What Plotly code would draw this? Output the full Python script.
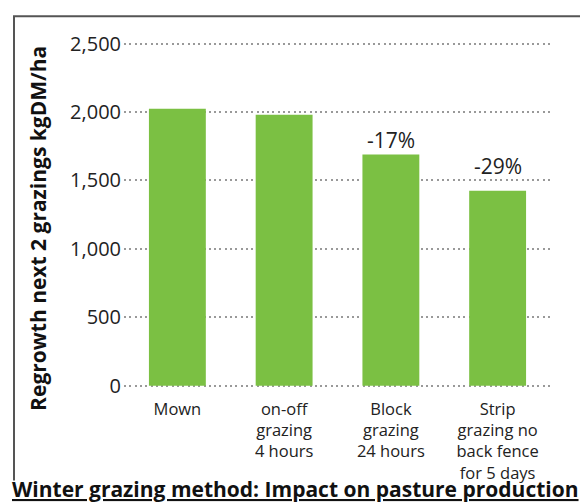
import plotly.graph_objects as go

categories = ["Mown", "on-off<br>grazing<br>4 hours", "Block<br>grazing<br>24 hours",
              "Strip<br>grazing no<br>back fence<br>for 5 days"]
regrowth = [2025, 1980, 1690, 1425]
change_labels = ["", "", "-17%", "-29%"]
y_ticks = [0, 500, 1000, 1500, 2000, 2500]

# page body has an 8px margin: work in window pixels and shift by OFF
OFF = 8
W, H = 588 - OFF, 503 - OFF
Y0_WIN, Y2500_WIN = 386, 43.5
scale = (Y0_WIN - Y2500_WIN) / 2500.0
YMIN, YMAX = -10, 2600
plot_bottom = Y0_WIN - OFF + (-YMIN) * scale
plot_top = Y0_WIN - OFF - YMAX * scale
L = 124 - OFF
R = W - (551 - OFF)
T = plot_top
B = H - plot_bottom
pw, ph = W - L - R, H - T - B


def px_x(p):
    return (p - OFF - L) / pw


def px_y(p):
    return (H - B - (p - OFF)) / ph


FONT = "Open Sans"
label_lift = {"-17%": -2, "-29%": 9}

fig = go.Figure()
fig.add_trace(go.Bar(x=categories, y=regrowth, marker=dict(color="#7bc043", line=dict(width=0)),
                     hoverinfo="skip"))

for c, v, t in zip(categories, regrowth, change_labels):
    if t:
        fig.add_annotation(x=c, y=v, text=t, showarrow=False, yanchor="bottom",
                           yshift=label_lift.get(t, 0),
                           font=dict(family=FONT, size=21, color="#222"))

fig.add_annotation(xref="paper", yref="paper", x=px_x(38), y=px_y(229), xanchor="center",
                   yanchor="middle", showarrow=False, textangle=-90,
                   text="<b>Regrowth next 2 grazings kgDM/ha</b>",
                   font=dict(family=FONT, size=21, color="#111"))

fig.add_annotation(xref="paper", yref="paper", x=px_x(10), y=px_y(490), xanchor="left",
                   yanchor="middle", showarrow=False,
                   text="<b>Winter grazing method: Impact on pasture production</b>",
                   font=dict(family=FONT, size=21, color="#111", lineposition="under"))

x0, x1, y0, y1, y2 = px_x(14), px_x(584), px_y(16), px_y(481), px_y(490)
fig.add_shape(type="path", xref="paper", yref="paper",
              path=f"M {x0},{y1} L {x0},{y0} L {x1},{y0} L {x1},{y2}",
              line=dict(color="#555", width=2))

fig.update_layout(
    width=W, height=H, margin=dict(l=L, r=R, t=T, b=B, autoexpand=False),
    paper_bgcolor="white", plot_bgcolor="white", showlegend=False,
    bargap=0.467,
    font=dict(family=FONT, color="#222"),
    xaxis=dict(showgrid=False, showline=False, zeroline=False, ticks="",
               ticklabelstandoff=10,
               tickfont=dict(family=FONT, size=16.5, color="#222")),
    yaxis=dict(range=[YMIN, YMAX], tickvals=y_ticks, tickformat=",d", showline=False,
               zeroline=False, showgrid=True, gridcolor="#999", gridwidth=1.5,
               griddash="2px,3.3px", ticks="", ticklabelstandoff=2,
               tickfont=dict(family=FONT, size=20, color="#222")),
)

fig.write_html("out.html")
